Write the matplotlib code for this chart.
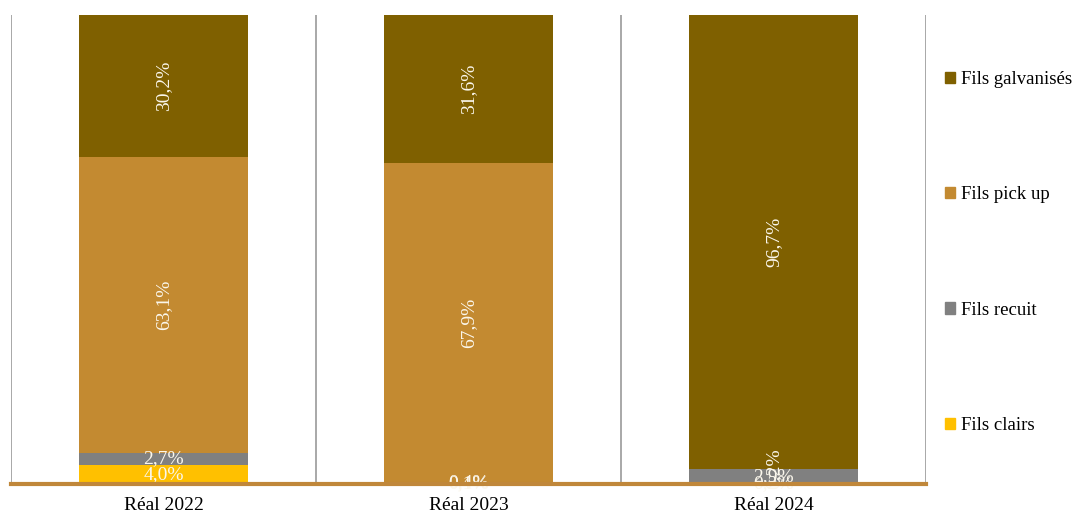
import matplotlib
matplotlib.use('Agg')
import matplotlib.pyplot as plt
import matplotlib.patches as mpatches
import numpy as np

plt.rcParams.update({
    'font.family': ['Liberation Serif', 'DejaVu Serif'],
    'font.size': 11,
})

# ── Data ─────────────────────────────────────────────────────────────────────
years = ['Réal 2022', 'Réal 2023', 'Réal 2024']
series = ['Fils clairs', 'Fils recuit', 'Fils pick up', 'Fils galvanisés']
clairs = [4.0, 0.1, 0.2]
recuit = [2.7, 0.4, 2.9]
pick_up = [63.1, 67.9, 0.2]
galva = [30.2, 31.6, 96.7]

COLORS = ['#FFC000', '#808080', '#C38A31', '#7F6000']
ROTATED = [False, False, True, True]
LABEL_COL = '#FBF7EC'

fig = plt.figure(figsize=(10.88, 5.16), dpi=100)
ax = fig.add_axes([11 / 1088, 32 / 516, 915 / 1088, 469 / 516])

x = np.arange(len(years))
width = 169 / 305
bottom = np.zeros(len(years))
for vals, col, rot in zip([clairs, recuit, pick_up, galva], COLORS, ROTATED):
    vals = np.array(vals)
    ax.bar(x, vals, width, bottom=bottom, color=col, zorder=2)
    for xi, v, b0 in zip(x, vals, bottom):
        ax.text(xi, b0 + v / 2, f'{v:.1f}%'.replace('.', ','),
                ha='center', va='center', rotation=90 if rot else 0,
                fontsize=14, color=LABEL_COL, zorder=3)
    bottom += vals

ax.set_xlim(-0.5, 2.5)
ax.set_ylim(0, 100)

# category separators
for xs in [-0.5, 0.5, 1.5, 2.5]:
    ax.axvline(xs, color='#9a9a9a', lw=1.2, zorder=1)

for s in ['top', 'right', 'left']:
    ax.spines[s].set_visible(False)
ax.spines['bottom'].set_color('#C0873A')
ax.spines['bottom'].set_linewidth(3)
ax.spines['bottom'].set_zorder(4)
ax.set_yticks([])
ax.set_xticks(x)
ax.set_xticklabels(years, fontsize=14)
ax.tick_params(axis='x', length=0, pad=9)

# ── Legend ───────────────────────────────────────────────────────────────────
handles = [mpatches.Patch(color=c, label=l) for c, l in zip(COLORS, series)]
fig.legend(handles=handles[::-1], loc='upper left',
           bbox_to_anchor=(928 / 1088, 1 - 54 / 516),
           frameon=False, fontsize=13.5, labelspacing=5.25,
           handlelength=0.55, handleheight=0.55, handletextpad=0.3)

fig.savefig('out.png', dpi=100)
